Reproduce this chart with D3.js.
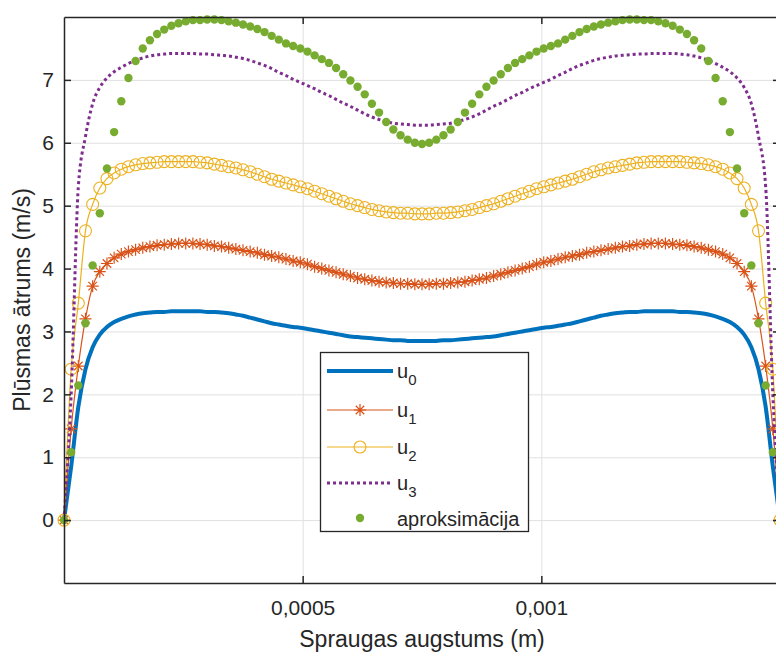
<!DOCTYPE html>
<html>
<head>
<meta charset="utf-8">
<script src="https://cdn.jsdelivr.net/npm/d3@7"></script>
<style>
  body { margin: 0; background: #fff; }
  svg { display: block; font-family: "Liberation Sans", Arial, Helvetica, sans-serif; }
</style>
</head>
<body>
<svg id="chart" width="776" height="653"></svg>
<script>
// sample positions across the gap (micrometres)
const gapUm = [
  0, 15, 30, 45, 60, 75, 90, 105, 120, 135,
  150, 165, 180, 195, 210, 225, 240, 255, 270, 285,
  300, 315, 330, 345, 360, 375, 390, 405, 420, 435,
  450, 465, 480, 495, 510, 525, 540, 555, 570, 585,
  600, 615, 630, 645, 660, 675, 690, 705, 720, 735,
  750,
  765, 780, 795, 810, 825, 840, 855, 870, 885, 900,
  915, 930, 945, 960, 975, 990, 1005, 1020, 1035, 1050,
  1065, 1080, 1095, 1110, 1125, 1140, 1155, 1170, 1185, 1200,
  1215, 1230, 1245, 1260, 1275, 1290, 1305, 1320, 1335, 1350,
  1365, 1380, 1395, 1410, 1425, 1440, 1455, 1470, 1485, 1500
];

const u0 = [
  0, 0.85, 1.8, 2.4, 2.75, 2.95, 3.07, 3.15, 3.2, 3.24,
  3.27, 3.29, 3.3, 3.31, 3.31, 3.32, 3.32, 3.32, 3.32, 3.32,
  3.31, 3.31, 3.3, 3.29, 3.27, 3.25, 3.22, 3.19, 3.16, 3.13,
  3.11, 3.09, 3.07, 3.06, 3.04, 3.02, 3.0, 2.98, 2.96, 2.94,
  2.92, 2.91, 2.9, 2.89, 2.88, 2.87, 2.86, 2.86, 2.85, 2.85,
  2.85,
  2.85, 2.85, 2.86, 2.86, 2.87, 2.88, 2.89, 2.9, 2.91, 2.92,
  2.94, 2.96, 2.98, 3.0, 3.02, 3.04, 3.06, 3.07, 3.09, 3.11,
  3.13, 3.16, 3.19, 3.22, 3.25, 3.27, 3.29, 3.3, 3.31, 3.31,
  3.32, 3.32, 3.32, 3.32, 3.32, 3.31, 3.31, 3.3, 3.29, 3.27,
  3.24, 3.2, 3.15, 3.07, 2.95, 2.75, 2.4, 1.8, 0.85, 0
];

const u1 = [
  0, 1.45, 2.45, 3.2, 3.72, 3.95, 4.08, 4.17, 4.23, 4.27,
  4.3, 4.33, 4.35, 4.37, 4.38, 4.39, 4.4, 4.4, 4.4, 4.39,
  4.38, 4.36, 4.35, 4.33, 4.31, 4.29, 4.27, 4.25, 4.22, 4.2,
  4.18, 4.15, 4.12, 4.1, 4.07, 4.03, 4.0, 3.97, 3.94, 3.91,
  3.88, 3.85, 3.83, 3.81, 3.79, 3.78, 3.77, 3.76, 3.76, 3.75,
  3.75,
  3.75, 3.76, 3.76, 3.77, 3.78, 3.79, 3.81, 3.83, 3.85, 3.88,
  3.91, 3.94, 3.97, 4.0, 4.03, 4.07, 4.1, 4.12, 4.15, 4.18,
  4.2, 4.22, 4.25, 4.27, 4.29, 4.31, 4.33, 4.35, 4.36, 4.38,
  4.39, 4.4, 4.4, 4.4, 4.39, 4.38, 4.37, 4.35, 4.33, 4.3,
  4.27, 4.23, 4.17, 4.08, 3.95, 3.72, 3.2, 2.45, 1.45, 0
];

const u2 = [
  0, 2.4, 3.45, 4.6, 5.02, 5.28, 5.43, 5.52, 5.58, 5.62,
  5.65, 5.67, 5.68, 5.69, 5.7, 5.7, 5.7, 5.7, 5.7, 5.69,
  5.68, 5.66, 5.64, 5.62, 5.6, 5.57, 5.54, 5.5, 5.46, 5.42,
  5.39, 5.36, 5.33, 5.3, 5.27, 5.23, 5.19, 5.15, 5.11, 5.07,
  5.03, 5.0, 4.97, 4.94, 4.92, 4.9, 4.89, 4.88, 4.88, 4.87,
  4.87,
  4.87, 4.88, 4.88, 4.89, 4.9, 4.92, 4.94, 4.97, 5.0, 5.03,
  5.07, 5.11, 5.15, 5.19, 5.23, 5.27, 5.3, 5.33, 5.36, 5.39,
  5.42, 5.46, 5.5, 5.54, 5.57, 5.6, 5.62, 5.64, 5.66, 5.68,
  5.69, 5.7, 5.7, 5.7, 5.7, 5.7, 5.69, 5.68, 5.67, 5.65,
  5.62, 5.58, 5.52, 5.43, 5.28, 5.02, 4.6, 3.45, 2.4, 0
];

const u3 = [
  0, 2.0, 5.3, 6.1, 6.62, 6.88, 7.03, 7.13, 7.2, 7.26,
  7.31, 7.35, 7.38, 7.4, 7.41, 7.42, 7.42, 7.42, 7.42, 7.41,
  7.41, 7.4, 7.39, 7.38, 7.36, 7.34, 7.31, 7.27, 7.23, 7.18,
  7.12, 7.07, 7.01, 6.96, 6.91, 6.86, 6.8, 6.75, 6.69, 6.63,
  6.58, 6.52, 6.46, 6.41, 6.37, 6.34, 6.31, 6.3, 6.29, 6.28,
  6.28,
  6.28, 6.29, 6.3, 6.31, 6.34, 6.37, 6.41, 6.46, 6.52, 6.58,
  6.63, 6.69, 6.75, 6.8, 6.86, 6.91, 6.96, 7.01, 7.07, 7.12,
  7.18, 7.23, 7.27, 7.31, 7.34, 7.36, 7.38, 7.39, 7.4, 7.41,
  7.41, 7.42, 7.42, 7.42, 7.42, 7.41, 7.4, 7.38, 7.35, 7.31,
  7.26, 7.2, 7.13, 7.03, 6.88, 6.62, 6.1, 5.3, 2.0, 0
];

const aproksimacija = [
  0, 1.08, 2.14, 3.13, 4.05, 4.88, 5.59, 6.17, 6.66, 7.03,
  7.3, 7.5, 7.63, 7.73, 7.8, 7.86, 7.9, 7.93, 7.95, 7.95,
  7.96, 7.96, 7.95, 7.93, 7.91, 7.88, 7.85, 7.81, 7.76, 7.7,
  7.64, 7.58, 7.54, 7.5, 7.45, 7.39, 7.33, 7.27, 7.19, 7.09,
  6.99, 6.89, 6.77, 6.62, 6.48, 6.33, 6.21, 6.12, 6.05, 6.0,
  5.98,
  6.0, 6.05, 6.12, 6.21, 6.33, 6.48, 6.62, 6.77, 6.89, 6.99,
  7.09, 7.19, 7.27, 7.33, 7.39, 7.45, 7.5, 7.54, 7.58, 7.64,
  7.7, 7.76, 7.81, 7.85, 7.88, 7.91, 7.93, 7.95, 7.96, 7.96,
  7.95, 7.95, 7.93, 7.9, 7.86, 7.8, 7.73, 7.63, 7.5, 7.3,
  7.03, 6.66, 6.17, 5.59, 4.88, 4.05, 3.13, 2.14, 1.08, 0
];

const xTickValues = [0.0005, 0.001];
const xTickLabels = ['0,0005', '0,001'];
const yTickValues = [0, 1, 2, 3, 4, 5, 6, 7];

(function() {
  const
    width = 776,
    height = 653,
    left = 64,
    right = 780,
    top = 17,
    bottom = 583,
    ink = '#262626'

  const svg = d3.select('#chart')

  svg.append('rect')
    .attr('width', width)
    .attr('height', height)
    .attr('fill', '#fff')

  const x = d3.scaleLinear().domain([0, 0.0015]).range([left, right])
  const y = d3.scaleLinear().domain([-1, 8]).range([bottom, top])

  const gap = gapUm.map(d => d * 1e-6)

  // grid
  const gx = svg.append('g')
    .attr('transform', `translate(0,${bottom})`)
    .call(d3.axisBottom(x).tickValues(xTickValues).tickSize(-(bottom - top)).tickFormat(''))
  const gy = svg.append('g')
    .attr('transform', `translate(${left},0)`)
    .call(d3.axisLeft(y).tickValues(yTickValues).tickSize(-(right - left)).tickFormat(''))
  ;[gx, gy].forEach(g => {
    g.select('.domain').remove()
    g.selectAll('.tick line').attr('stroke', '#e0e0e0').attr('stroke-width', 1)
  })

  const line = d3.line()
    .x((d, i) => x(gap[i]))
    .y(d => y(d))
    .curve(d3.curveMonotoneX)

  const plot = svg.append('g')

  // u0
  plot.append('path')
    .attr('d', line(u0))
    .attr('fill', 'none')
    .attr('stroke', '#0072BD')
    .attr('stroke-width', 4)
    .attr('stroke-linejoin', 'round')

  // u1 with asterisks
  const asterisk = {
    draw(ctx, size) {
      const r = Math.sqrt(size) / 2
      const q = r * Math.SQRT1_2
      ctx.moveTo(-r, 0); ctx.lineTo(r, 0)
      ctx.moveTo(0, -r); ctx.lineTo(0, r)
      ctx.moveTo(-q, -q); ctx.lineTo(q, q)
      ctx.moveTo(-q, q); ctx.lineTo(q, -q)
    }
  }
  const star = d3.symbol().type(asterisk).size(144)

  plot.append('path')
    .attr('d', line(u1))
    .attr('fill', 'none')
    .attr('stroke', '#D95319')
    .attr('stroke-width', 1.2)
  plot.append('g')
    .selectAll('path')
    .data(u1)
    .join('path')
    .attr('transform', (d, i) => `translate(${x(gap[i])},${y(d)})`)
    .attr('d', star())
    .attr('fill', 'none')
    .attr('stroke', '#D95319')
    .attr('stroke-width', 1.2)

  // u2 with open circles
  plot.append('path')
    .attr('d', line(u2))
    .attr('fill', 'none')
    .attr('stroke', '#EDB120')
    .attr('stroke-width', 1.2)
  plot.append('g')
    .selectAll('circle')
    .data(u2)
    .join('circle')
    .attr('cx', (d, i) => x(gap[i]))
    .attr('cy', d => y(d))
    .attr('r', 6)
    .attr('fill', 'none')
    .attr('stroke', '#EDB120')
    .attr('stroke-width', 1.1)

  // u3 dotted
  plot.append('path')
    .attr('d', line(u3))
    .attr('fill', 'none')
    .attr('stroke', '#7E2F8E')
    .attr('stroke-width', 3)
    .attr('stroke-dasharray', '3 3')

  // approximation dots
  plot.append('g')
    .selectAll('circle')
    .data(aproksimacija)
    .join('circle')
    .attr('cx', (d, i) => x(gap[i]))
    .attr('cy', d => y(d))
    .attr('r', 4.2)
    .attr('fill', '#77AC30')

  // axes (inward ticks, closed box)
  const styleAxis = g => {
    g.attr('font-family', null).attr('font-size', null)
    g.selectAll('.domain, .tick line').attr('stroke', ink).attr('stroke-width', 1.5)
    g.selectAll('.tick text').attr('fill', ink).style('font-size', '21px')
  }

  svg.append('g')
    .attr('transform', `translate(0,${bottom})`)
    .call(d3.axisBottom(x).tickValues(xTickValues).tickFormat((d, i) => xTickLabels[i])
      .tickSizeInner(-7).tickSizeOuter(0).tickPadding(17))
    .call(styleAxis)

  svg.append('g')
    .attr('transform', `translate(0,${top})`)
    .call(d3.axisTop(x).tickValues(xTickValues).tickFormat('')
      .tickSizeInner(-7).tickSizeOuter(0))
    .call(styleAxis)

  svg.append('g')
    .attr('transform', `translate(${left},0)`)
    .call(d3.axisLeft(y).tickValues(yTickValues)
      .tickSizeInner(-7).tickSizeOuter(0).tickPadding(10))
    .call(styleAxis)

  svg.append('g')
    .attr('transform', `translate(${right},0)`)
    .call(d3.axisRight(y).tickValues(yTickValues).tickFormat('')
      .tickSizeInner(-7).tickSizeOuter(0))
    .call(styleAxis)

  // axis titles
  svg.append('text')
    .attr('x', (left + right) / 2)
    .attr('y', 647)
    .attr('text-anchor', 'middle')
    .attr('fill', ink)
    .style('font-size', '23px')
    .text('Spraugas augstums (m)')

  svg.append('text')
    .attr('transform', `translate(30,${(top + bottom) / 2}) rotate(-90)`)
    .attr('text-anchor', 'middle')
    .attr('fill', ink)
    .style('font-size', '23px')
    .text('Plūsmas ātrums (m/s)')

  // legend
  const legend = svg.append('g')
  legend.append('rect')
    .attr('x', 320.5)
    .attr('y', 352.5)
    .attr('width', 208)
    .attr('height', 179)
    .attr('fill', '#fff')
    .attr('stroke', ink)
    .attr('stroke-width', 1.3)

  const rows = [371, 410, 447, 483, 518]
  const x0 = 327, x1 = 393, xm = 360, tx = 397

  legend.append('line')
    .attr('x1', x0).attr('x2', x1).attr('y1', rows[0]).attr('y2', rows[0])
    .attr('stroke', '#0072BD').attr('stroke-width', 4)

  legend.append('line')
    .attr('x1', x0).attr('x2', x1).attr('y1', rows[1]).attr('y2', rows[1])
    .attr('stroke', '#D95319').attr('stroke-width', 1.2)
  legend.append('path')
    .attr('transform', `translate(${xm},${rows[1]})`)
    .attr('d', star())
    .attr('fill', 'none').attr('stroke', '#D95319').attr('stroke-width', 1.2)

  legend.append('line')
    .attr('x1', x0).attr('x2', x1).attr('y1', rows[2]).attr('y2', rows[2])
    .attr('stroke', '#EDB120').attr('stroke-width', 1.2)
  legend.append('circle')
    .attr('cx', xm).attr('cy', rows[2]).attr('r', 6)
    .attr('fill', 'none').attr('stroke', '#EDB120').attr('stroke-width', 1.1)

  legend.append('line')
    .attr('x1', x0).attr('x2', x1).attr('y1', rows[3]).attr('y2', rows[3])
    .attr('stroke', '#7E2F8E').attr('stroke-width', 3).attr('stroke-dasharray', '3 3')

  legend.append('circle')
    .attr('cx', xm).attr('cy', rows[4]).attr('r', 4.2)
    .attr('fill', '#77AC30')

  ;['0', '1', '2', '3'].forEach((s, i) => {
    const t = legend.append('text')
      .attr('x', tx)
      .attr('y', rows[i] + 7)
      .attr('fill', ink)
      .style('font-size', '20px')
    t.append('tspan').text('u')
    t.append('tspan').attr('dy', 7).style('font-size', '15px').text(s)
  })

  legend.append('text')
    .attr('x', tx)
    .attr('y', rows[4] + 8)
    .attr('fill', ink)
    .style('font-size', '20px')
    .text('aproksimācija')
})();
</script>
</body>
</html>
